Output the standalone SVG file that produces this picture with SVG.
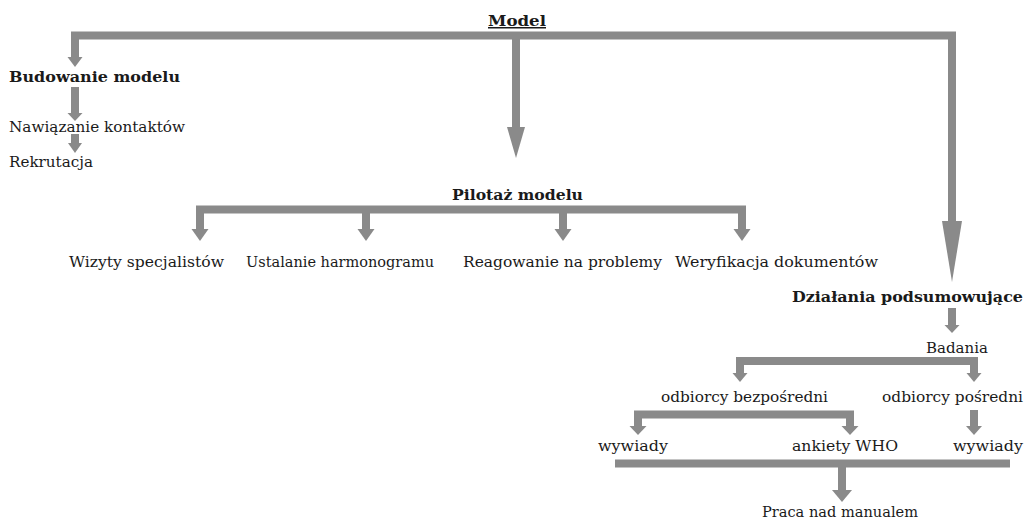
<svg xmlns="http://www.w3.org/2000/svg" width="1025" height="520" viewBox="0 0 1025 520">
<style>
text{font-family:"DejaVu Serif","Liberation Serif",serif;font-size:15px;fill:#1a1a1a}
.b{font-weight:bold}
.c{fill:none;stroke:#8a8a8a;stroke-width:8;stroke-linejoin:miter;stroke-linecap:butt}
.h{fill:#8a8a8a}
</style>
<rect width="1025" height="520" fill="#fff"/>
<g id="connectors">
<path class="c" d="M75 57V35.5H952V221"/>
<polygon class="h" points="67.5,57 82.5,57 75,67"/>
<path class="c" d="M516 35.5V127"/>
<polygon class="h" points="507,127 525,127 516,158"/>
<polygon class="h" points="942,221 962,221 952,282"/>
<path class="c" d="M75 87V113"/>
<polygon class="h" points="67.5,113 82.5,113 75,121"/>
<path class="c" d="M75 134V143"/>
<polygon class="h" points="68,143 82,143 75,153"/>
<path class="c" d="M200 229V209.5H742V229"/>
<path class="c" d="M366 209.5V229M563 209.5V229"/>
<polygon class="h" points="191.5,229 208.5,229 200,241"/>
<polygon class="h" points="357.5,229 374.5,229 366,241"/>
<polygon class="h" points="554.5,229 571.5,229 563,241"/>
<polygon class="h" points="733.5,229 750.5,229 742,241"/>
<path class="c" d="M952 308V325"/>
<polygon class="h" points="944.5,325 959.5,325 952,333"/>
<path class="c" d="M740 373V361H974V373"/>
<polygon class="h" points="732.5,373 747.5,373 740,382"/>
<polygon class="h" points="966.5,373 981.5,373 974,382"/>
<path class="c" d="M974 410V426"/>
<polygon class="h" points="966,426 982,426 974,435"/>
<path class="c" d="M638 426V414.5H850V426"/>
<polygon class="h" points="629.5,426 646.5,426 638,435"/>
<polygon class="h" points="841.5,426 858.5,426 850,435"/>
<path class="c" d="M615 463.5H1010M842 463.5V490"/>
<polygon class="h" points="832,490 852,490 842,502"/>
</g>
<g id="n-model"><text class="b" x="488" y="26" textLength="58" lengthAdjust="spacingAndGlyphs" text-decoration="underline">Model</text></g>
<g id="n-budowanie"><text class="b" x="9" y="82" textLength="171" lengthAdjust="spacingAndGlyphs">Budowanie modelu</text></g>
<g id="n-nawiazanie"><text x="9" y="132" textLength="176" lengthAdjust="spacingAndGlyphs">Nawiązanie kontaktów</text></g>
<g id="n-rekrutacja"><text x="9" y="167" textLength="84" lengthAdjust="spacingAndGlyphs">Rekrutacja</text></g>
<g id="n-pilotaz"><text class="b" x="452" y="200" textLength="131" lengthAdjust="spacingAndGlyphs">Pilotaż modelu</text></g>
<g id="n-wizyty"><text x="69" y="267" textLength="155" lengthAdjust="spacingAndGlyphs">Wizyty specjalistów</text></g>
<g id="n-ustalanie"><text x="246" y="267" textLength="188" lengthAdjust="spacingAndGlyphs">Ustalanie harmonogramu</text></g>
<g id="n-reagowanie"><text x="463" y="267" textLength="199" lengthAdjust="spacingAndGlyphs">Reagowanie na problemy</text></g>
<g id="n-weryfikacja"><text x="675" y="267" textLength="203" lengthAdjust="spacingAndGlyphs">Weryfikacja dokumentów</text></g>
<g id="n-dzialania"><text class="b" x="792" y="302" textLength="231" lengthAdjust="spacingAndGlyphs">Działania podsumowujące</text></g>
<g id="n-badania"><text x="926" y="353" textLength="62" lengthAdjust="spacingAndGlyphs">Badania</text></g>
<g id="n-bezposredni"><text x="661" y="402" textLength="167" lengthAdjust="spacingAndGlyphs">odbiorcy bezpośredni</text></g>
<g id="n-posredni"><text x="882" y="402" textLength="141" lengthAdjust="spacingAndGlyphs">odbiorcy pośredni</text></g>
<g id="n-wywiady1"><text x="598" y="451" textLength="70" lengthAdjust="spacingAndGlyphs">wywiady</text></g>
<g id="n-ankiety"><text x="792" y="451" textLength="106" lengthAdjust="spacingAndGlyphs">ankiety WHO</text></g>
<g id="n-wywiady2"><text x="953" y="451" textLength="70" lengthAdjust="spacingAndGlyphs">wywiady</text></g>
<g id="n-praca"><text x="762" y="517" textLength="156" lengthAdjust="spacingAndGlyphs">Praca nad manualem</text></g>
</svg>
